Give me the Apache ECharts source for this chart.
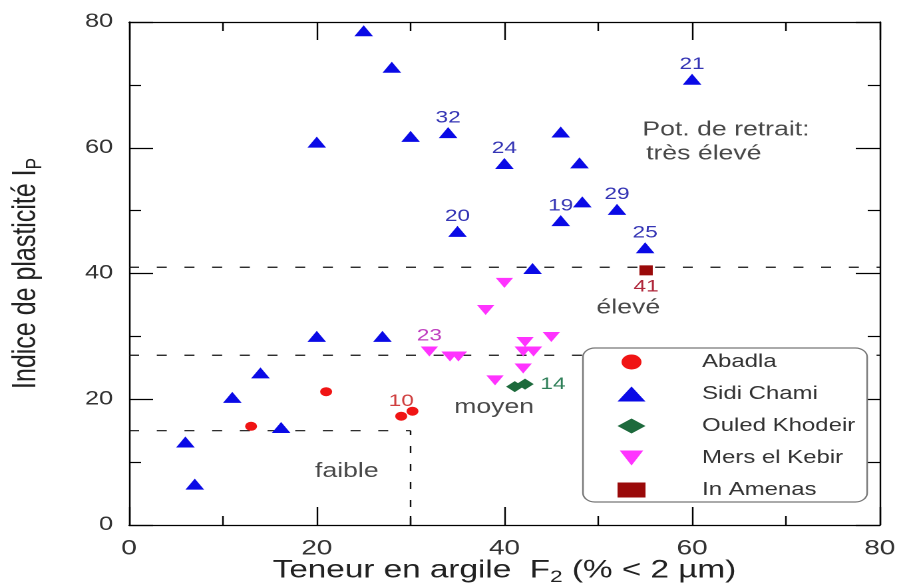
<!DOCTYPE html>
<html><head><meta charset="utf-8">
<script src="https://cdn.jsdelivr.net/npm/echarts@6/dist/echarts.min.js"></script>
<style>
html,body{margin:0;padding:0;background:#fff;overflow:hidden;}
#wrap{width:901px;height:585px;overflow:hidden;}
#chart{width:677px;height:585px;transform:scaleX(1.3309);transform-origin:0 0;}
</style></head><body>
<div id="wrap"><div id="chart"></div></div>
<script>
// ---- data ----
const seriesNames = ['Abadla', 'Sidi Chami', 'Ouled Khodeir', 'Mers el Kebir', 'In Amenas'];
const abadla = [[13,15.7],[21,21.2],[29,17.3],[30.2,18.1]];
const abadlaLabels = ['','','10',''];
const sidiChami = [[25,78.6],[28,72.8],[20,60.9],[30,61.8],[34,62.4],[40,57.5],[35,46.7],[60,70.9],[46,62.5],[48,57.6],[48.3,51.4],[46,48.4],[52,50.2],[55,44.1],[43,40.8],[20,30],[27,30],[14,24.2],[11,20.3],[16.2,15.5],[6,13.2],[7,6.5]];
const sidiChamiLabels = ['','','','','32','24','20','21','','','','19','29','25','','','','','','','',''];
const ouledKhodeir = [[41.1,22.0],[42.2,22.4]];
const ouledKhodeirLabels = ['','14'];
const mersElKebir = [[40,38.5],[38,34.2],[32,27.6],[34.2,26.8],[35.1,26.8],[42.2,29.1],[45,29.9],[42,27.6],[43.1,27.6],[42,24.9],[39,23.0]];
const mersElKebirLabels = ['','','23','','','','','','','',''];
const inAmenas = [[55.1,40.5]];
const inAmenasLabels = ['41'];
// class boundaries (dashed lines)
const boundaryLines = [[[0,41],[80,41]], [[0,27],[80,27]], [[0,15],[30,15]], [[30,0],[30,15]]];
// zone annotations: [x, y, text]
const zoneLeftText = [[54.7,62.8,'Pot. de retrait:'],[55.1,59.0,'très élevé']];
const zoneCenterText = [[53.2,34.5,'élevé'],[38.9,18.7,'moyen'],[23.2,8.5,'faible']];
const xRange = [0, 80];
const yRange = [0, 80];
const tickStep = 20;

// ---- build ----
const FONT = '"Liberation Sans", Arial, sans-serif';
function items(pts, labels) {
  return pts.map((p, i) => ({ value: p, label: { show: !!labels[i], formatter: labels[i] || '' } }));
}
function baseAxis(pos, showLabel) {
  return {
    type: 'value', position: pos, min: xRange[0], max: xRange[1], interval: tickStep,
    axisLine: { show: true, onZero: false, lineStyle: { color: '#000', width: 1.2 } },
    axisTick: { show: true, inside: true, length: 18, lineStyle: { color: '#000', width: 1.2 } },
    minorTick: { show: true, splitNumber: 2, length: 9, lineStyle: { color: '#000', width: 1.2 } },
    splitLine: { show: false }, minorSplitLine: { show: false },
    axisLabel: { show: showLabel, fontSize: 19, color: '#333', fontFamily: FONT, margin: 12 }
  };
}
const subRich = {
  a: { fontSize: 25, color: '#222', fontFamily: FONT },
  s: { fontSize: 17, color: '#222', fontFamily: FONT, padding: [14, 0, 0, 0] }
};
const xBottom = Object.assign(baseAxis('bottom', true), {
  name: '{a|Teneur en argile  F}{s|2}{a| (% < 2 µm)}', nameLocation: 'middle', nameGap: 30,
  nameMoveOverlap: false,
  nameTextStyle: { rich: subRich }
});
xBottom.axisLabel = Object.assign({}, xBottom.axisLabel, { fontSize: 21, margin: 13 });
const xTop = baseAxis('top', false);
const yLeft = Object.assign(baseAxis('left', true), {
  min: yRange[0], max: yRange[1],
  name: '{a|Indice de plasticité I}{s|P}', nameLocation: 'middle', nameGap: 62,
  nameTextStyle: { rich: subRich }
});
const yRight = Object.assign(baseAxis('right', false), { min: yRange[0], max: yRange[1] });

const dashSeries = boundaryLines.map((seg, i) => ({
  type: 'line', data: seg, symbol: 'none', silent: true, z: 1,
  xAxisIndex: 0, yAxisIndex: 0,
  lineStyle: { color: '#111', width: 1.2, type: i === 3 ? [7, 11] : [7.5, 13.3] }
}));
const downTri = 'path://M0,0L20,0L10,17Z';

const option = {
  animation: false,
  backgroundColor: '#fff',
  grid: { left: 97, right: 16, top: 22, bottom: 60, containLabel: false, outerBoundsMode: 'none' },
  xAxis: [xBottom, xTop],
  yAxis: [yLeft, yRight],
  legend: {
    orient: 'vertical', left: 438, top: 348,
    data: seriesNames, selectedMode: false,
    itemWidth: 21, itemHeight: 15, itemGap: 14,
    padding: [5, 9, 3, 26],
    backgroundColor: '#fff', borderColor: '#777', borderWidth: 1.2, borderRadius: 9,
    textStyle: { fontSize: 18, color: '#333', fontFamily: FONT, padding: [0, 0, 0, 37.5] }
  },
  series: [
    ...dashSeries,
    { name: 'Abadla', type: 'scatter', symbol: 'circle', symbolSize: [9, 9],
      itemStyle: { color: '#f01414', opacity: 1 }, data: items(abadla, abadlaLabels),
      label: { position: 'top', distance: 2, color: '#d04040', fontSize: 17, fontFamily: FONT } },
    { name: 'Sidi Chami', type: 'scatter', symbol: 'triangle', symbolSize: [14, 11],
      itemStyle: { color: '#0a0ae6', opacity: 1 }, data: items(sidiChami, sidiChamiLabels),
      label: { position: 'top', distance: 1, color: '#3535b5', fontSize: 17, fontFamily: FONT } },
    { name: 'Ouled Khodeir', type: 'scatter', symbol: 'diamond', symbolSize: [13, 11],
      itemStyle: { color: '#1d6a3c', opacity: 1 }, data: items(ouledKhodeir, ouledKhodeirLabels),
      label: { position: 'right', distance: 5, color: '#2e7f58', fontSize: 17, fontFamily: FONT } },
    { name: 'Mers el Kebir', type: 'scatter', symbol: downTri, symbolSize: [13, 10],
      itemStyle: { color: '#ff33ff', opacity: 1 }, data: items(mersElKebir, mersElKebirLabels),
      label: { position: 'top', distance: 2, color: '#c040c0', fontSize: 17, fontFamily: FONT } },
    { name: 'In Amenas', type: 'scatter', symbol: 'rect', symbolSize: [10, 10],
      itemStyle: { color: '#9a0a0a', opacity: 1 }, data: items(inAmenas, inAmenasLabels),
      label: { position: 'bottom', distance: 3, color: '#b0283c', fontSize: 17, fontFamily: FONT } },
    { type: 'scatter', symbolSize: 0, silent: true,
      data: zoneLeftText.map(t => ({ value: [t[0], t[1]], label: { formatter: t[2] } })),
      label: { show: true, position: 'right', distance: 0, color: '#1a1a1a', fontSize: 20, fontFamily: FONT } },
    { type: 'scatter', symbolSize: 0, silent: true,
      data: zoneCenterText.map(t => ({ value: [t[0], t[1]], label: { formatter: t[2] } })),
      label: { show: true, position: 'inside', color: '#1a1a1a', fontSize: 20, fontFamily: FONT } }
  ]
};
const chart = echarts.init(document.getElementById('chart'), null, { renderer: 'canvas', devicePixelRatio: 2 });
chart.setOption(option);
</script>
</body></html>
